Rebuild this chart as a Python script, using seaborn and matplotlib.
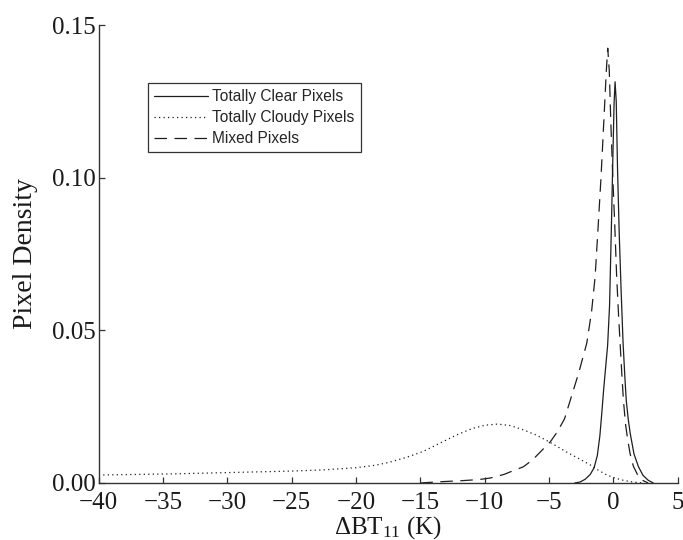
import matplotlib
matplotlib.use("Agg")
import matplotlib.pyplot as plt
import seaborn as sns
import pandas as pd

# Brightness-temperature difference (K) and pixel density for each class
clear_dbt = [-3.0, -2.6, -2.2, -1.8, -1.5, -1.25, -1.05, -0.9, -0.75, -0.6, -0.45, -0.3,
             -0.15, -0.05, 0.05, 0.13, 0.22, 0.32, 0.45, 0.6, 0.75, 0.9, 1.0, 1.15, 1.3,
             1.6, 1.95, 2.3, 2.7, 3.1]
clear_density = [0.0, 0.0003, 0.0012, 0.0028, 0.0050, 0.0090, 0.0155, 0.023, 0.031, 0.038,
                 0.045, 0.058, 0.085, 0.105, 0.124, 0.1314, 0.125, 0.103, 0.082, 0.063,
                 0.046, 0.034, 0.027, 0.021, 0.0164, 0.0095, 0.0053, 0.0025, 0.0009, 0.0]

cloudy_dbt = [-40, -37, -34, -31, -28, -25, -22.5, -20, -18.5, -17.4, -16, -14.8, -13.5,
              -12.2, -11, -10, -9, -8, -7, -6, -5, -4.35, -3.5, -2.6, -1.8, -1.1, -0.5,
              0.2, 0.75, 1.5, 2.3]
cloudy_density = [0.0026, 0.0028, 0.0030, 0.0033, 0.0036, 0.0039, 0.0043, 0.0050, 0.0058,
                  0.0068, 0.0085, 0.0103, 0.0130, 0.0157, 0.0178, 0.0189, 0.0193, 0.0188,
                  0.0174, 0.0157, 0.0135, 0.0119, 0.0098, 0.0078, 0.0059, 0.0040, 0.0026,
                  0.0015, 0.0009, 0.0003, 0.0]

mixed_dbt = [-15, -13.5, -12, -10.5, -9.6, -8.5, -7.8, -7.0, -6.3, -5.6, -4.9, -4.35, -3.8,
             -3.36, -2.7, -2.07, -1.7, -1.42, -1.2, -0.96, -0.75, -0.55, -0.44, -0.32, -0.2,
             -0.05, 0.1, 0.25, 0.4, 0.52, 0.65, 0.78, 0.95, 1.1, 1.3, 1.55, 1.9, 2.3, 2.7]
mixed_density = [0.0, 0.0004, 0.0007, 0.0011, 0.0016, 0.0028, 0.0040, 0.0053, 0.0075,
                 0.0105, 0.0135, 0.0168, 0.021, 0.027, 0.036, 0.0458, 0.056, 0.0676, 0.083,
                 0.1003, 0.118, 0.135, 0.1424, 0.135, 0.118, 0.1003, 0.085, 0.068, 0.055,
                 0.0458, 0.036, 0.027, 0.019, 0.0145, 0.0095, 0.0055, 0.0025, 0.0008, 0.0]

series_names = ["Totally Clear Pixels", "Totally Cloudy Pixels", "Mixed Pixels"]
x_ticks = [-40, -35, -30, -25, -20, -15, -10, -5, 0, 5]
y_ticks = [0.00, 0.05, 0.10, 0.15]

frame = pd.concat([
    pd.DataFrame({"dbt": clear_dbt, "density": clear_density, "kind": series_names[0]}),
    pd.DataFrame({"dbt": cloudy_dbt, "density": cloudy_density, "kind": series_names[1]}),
    pd.DataFrame({"dbt": mixed_dbt, "density": mixed_density, "kind": series_names[2]}),
], ignore_index=True)

sns.set_theme(style="ticks")
plt.rcParams["font.family"] = ["Liberation Serif", "DejaVu Serif"]
plt.rcParams["mathtext.fontset"] = "custom"
plt.rcParams["mathtext.rm"] = "Liberation Serif"
plt.rcParams["mathtext.it"] = "Liberation Serif"

fig = plt.figure(figsize=(6.83, 5.40), dpi=100)
ax = fig.add_axes([0.1445, 0.1056, 0.8478, 0.8481])

line_color = "#1e1e1e"
sns.lineplot(
    data=frame, x="dbt", y="density", style="kind", style_order=series_names,
    dashes={series_names[0]: "", series_names[1]: (1, 2.6), series_names[2]: (10, 6)},
    color=line_color, linewidth=0.9, estimator=None, sort=False, ax=ax, legend=False,
)
for ln in ax.lines:
    ln.set_dash_capstyle("butt")

ax.set_xlim(-40, 5)
ax.set_ylim(0, 0.15)
ax.set_xticks(x_ticks)
ax.set_yticks(y_ticks)
ax.set_xticklabels([f"{t:d}".replace("-", "\u2212") for t in x_ticks])
ax.set_yticklabels([f"{t:.2f}" for t in y_ticks])
ax.tick_params(direction="in", length=4, width=0.9, color="#333333",
               labelsize=18, labelcolor="#1a1a1a")
ax.tick_params(axis="x", pad=6.5)
ax.tick_params(axis="y", pad=2)
for side in ("top", "right"):
    ax.spines[side].set_visible(False)
for side in ("left", "bottom"):
    ax.spines[side].set_color("#333333")
    ax.spines[side].set_linewidth(1.0)

ax.set_xlabel("\u0394BT$_{11}$ (K)", fontsize=18, labelpad=0, color="#1a1a1a")
ax.set_ylabel("Pixel Density", fontsize=20, labelpad=0, color="#1a1a1a")
ax.yaxis.set_label_coords(-0.105, 0.5)

handles = ax.lines[:3]
leg = ax.legend(
    handles, series_names, loc="upper left", bbox_to_anchor=(0.085, 0.873),
    prop={"family": "Liberation Sans", "size": 11.2}, frameon=True, fancybox=False,
    edgecolor="#333333", framealpha=1, handlelength=3.45, handletextpad=0.3,
    labelspacing=0.38, borderpad=0.4, borderaxespad=0,
)
leg.get_frame().set_linewidth(0.9)

fig.savefig("out.png", dpi=100)
